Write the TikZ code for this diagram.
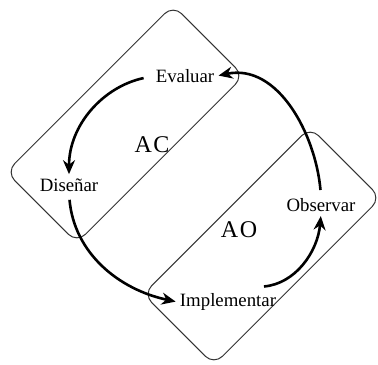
\documentclass[tikz,border=0pt]{standalone}
\usepackage{fontspec}
\setmainfont{Liberation Serif}
\usetikzlibrary{arrows.meta}
\begin{document}
\begin{tikzpicture}[x=0.5pt, y=0.5pt,
    phase/.style={font=\fontsize{9.4}{11}\selectfont, inner sep=1pt},
    area/.style={font=\fontsize{12}{14}\selectfont},
    zone/.style={draw=black!80, line width=0.5pt, rounded corners=6pt, rotate=45,
                 minimum width=118pt, minimum height=50pt},
    cycle/.style={line width=1.3pt, -{Stealth[length=7pt,width=6pt]},
                  shorten <=3pt, shorten >=1pt}]
    \useasboundingbox (0,0) rectangle (378,364);
    \node[zone] (ACbox) at (125,240) {};
    \node[zone] (AObox) at (262,118) {};
    \node[phase] (Evaluar) at (185,288) {Evaluar};
    \node[phase] (Disenar) at (69,179) {Diseñar};
    \node[phase] (Implementar) at (228,62) {Implementar};
    \node[phase] (Observar) at (321,159) {Observar};
    \node[area] (AC) at (152,219) {A\kern0.8pt C};
    \node[area] (AO) at (239,134) {A\kern0.8pt O};
    \coordinate (ImpOut) at (258,77);
    \draw[cycle, shorten <=5pt] (Evaluar.west) to[out=192, in=90] (Disenar.north);
    \draw[cycle] (Disenar.south) to[out=-85, in=168] (Implementar.west);
    \draw[cycle] (ImpOut) to[out=5, in=-95] (Observar.south);
    \draw[cycle] (Observar.north) to[out=95, in=12] (Evaluar.east);
  \end{tikzpicture}
\end{document}
